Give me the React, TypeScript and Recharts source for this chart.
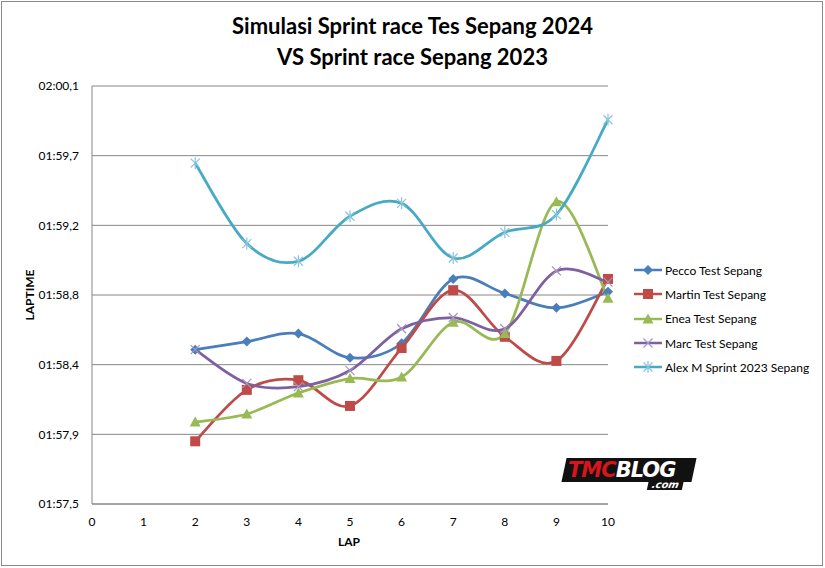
import React from "react";
import { LineChart, Line, XAxis, YAxis, CartesianGrid } from "recharts";

const LAPS = [0, 1, 2, 3, 4, 5, 6, 7, 8, 9, 10];
const PECCO = [null, null, 118.46, 118.51, 118.56, 118.41, 118.5, 118.9, 118.81, 118.72, 118.82];
const MARTIN = [null, null, 117.89, 118.21, 118.27, 118.11, 118.47, 118.83, 118.54, 118.39, 118.9];
const ENEA = [null, null, 118.01, 118.06, 118.19, 118.28, 118.29, 118.63, 118.56, 119.38, 118.78];
const MARC = [null, null, 118.46, 118.25, 118.23, 118.33, 118.59, 118.66, 118.59, 118.95, 118.88];
const ALEX = [null, null, 119.62, 119.12, 119.01, 119.29, 119.37, 119.03, 119.19, 119.3, 119.89];
const Y_TICKS = [117.5, 117.9333, 118.3667, 118.8, 119.2333, 119.6667, 120.1];

const data = LAPS.map((lap, i) => ({
  lap,
  pecco: PECCO[i],
  martin: MARTIN[i],
  enea: ENEA[i],
  marc: MARC[i],
  alex: ALEX[i],
}));

const FONT = "Lato, 'Open Sans', sans-serif";

// Excel-style smoothed line (uniform Catmull-Rom as cubic beziers)
const excelCurve = (context: any) => {
  let pts: number[][] = [];
  return {
    areaStart() {},
    areaEnd() {},
    lineStart() {
      pts = [];
    },
    point(x: number, y: number) {
      pts.push([+x, +y]);
    },
    lineEnd() {
      const n = pts.length;
      if (!n) return;
      context.moveTo(pts[0][0], pts[0][1]);
      for (let i = 0; i < n - 1; i++) {
        const p0 = pts[i - 1] || pts[i];
        const p1 = pts[i];
        const p2 = pts[i + 1];
        const p3 = pts[i + 2] || p2;
        context.bezierCurveTo(
          p1[0] + (p2[0] - p0[0]) / 6,
          p1[1] + (p2[1] - p0[1]) / 6,
          p2[0] - (p3[0] - p1[0]) / 6,
          p2[1] - (p3[1] - p1[1]) / 6,
          p2[0],
          p2[1]
        );
      }
    },
  };
};

const fmtTime = (v: number) => {
  const m = Math.floor(v / 60 + 1e-9);
  const s = v - m * 60;
  const sTxt = s.toFixed(1).replace(".", ",");
  return `${String(m).padStart(2, "0")}:${s < 9.95 ? "0" : ""}${sTxt}`;
};

type Marker = "diamond" | "square" | "triangle" | "x" | "star";

function drawMarker(kind: Marker, cx: number, cy: number, color: string, key?: any) {
  if (cx == null || cy == null || isNaN(cx) || isNaN(cy)) return <g key={key} />;
  switch (kind) {
    case "diamond":
      return (
        <path key={key} d={`M${cx},${cy - 5}L${cx + 5},${cy}L${cx},${cy + 5}L${cx - 5},${cy}Z`} fill={color} />
      );
    case "square":
      return <rect key={key} x={cx - 5} y={cy - 5} width={10} height={10} fill={color} />;
    case "triangle":
      return (
        <path key={key} d={`M${cx},${cy - 5.5}L${cx + 5.5},${cy + 4.5}L${cx - 5.5},${cy + 4.5}Z`} fill={color} />
      );
    case "x":
      return (
        <path
          key={key}
          d={`M${cx - 4.5},${cy - 4.5}L${cx + 4.5},${cy + 4.5}M${cx - 4.5},${cy + 4.5}L${cx + 4.5},${cy - 4.5}`}
          stroke={color}
          strokeWidth={1.2}
          fill="none"
        />
      );
    default:
      return (
        <path
          key={key}
          d={`M${cx - 4.5},${cy - 4.5}L${cx + 4.5},${cy + 4.5}M${cx - 4.5},${cy + 4.5}L${cx + 4.5},${cy - 4.5}M${cx},${cy - 6}L${cx},${cy + 6}`}
          stroke={color}
          strokeWidth={1.2}
          fill="none"
        />
      );
  }
}

const SERIES: { key: string; name: string; color: string; markerColor: string; marker: Marker }[] = [
  { key: "pecco", name: "Pecco Test Sepang", color: "#4A7EBB", markerColor: "#4A7EBB", marker: "diamond" },
  { key: "martin", name: "Martin Test Sepang", color: "#BE4B48", markerColor: "#BE4B48", marker: "square" },
  { key: "enea", name: "Enea Test Sepang", color: "#98B954", markerColor: "#98B954", marker: "triangle" },
  { key: "marc", name: "Marc Test Sepang", color: "#7D60A0", markerColor: "#A595C0", marker: "x" },
  { key: "alex", name: "Alex M Sprint 2023 Sepang", color: "#46AAC5", markerColor: "#8AC4DA", marker: "star" },
];

const ChartLegend = () => (
  <div style={{ position: "absolute", left: 633, top: 258, fontFamily: FONT, fontSize: 12, color: "#000" }}>
    {SERIES.map((s) => (
      <div key={s.key} style={{ display: "flex", alignItems: "center", height: 24.3 }}>
        <svg width={30} height={14} style={{ marginRight: 2 }}>
          <line x1={1} y1={7} x2={29} y2={7} stroke={s.color} strokeWidth={2.5} />
          {drawMarker(s.marker, 15, 7, s.markerColor)}
        </svg>
        <span>{s.name}</span>
      </div>
    ))}
  </div>
);

const Logo = () => (
  <div style={{ position: "absolute", left: 562, top: 458, width: 134, height: 34 }}>
    <div
      style={{
        position: "absolute",
        left: 2,
        top: 0,
        width: 130,
        height: 24,
        background: "#111",
        transform: "skewX(-12deg)",
      }}
    />
    <div
      style={{
        position: "absolute",
        left: 6,
        top: 0,
        fontFamily: "'DejaVu Sans', sans-serif",
        fontWeight: 900,
        fontStyle: "italic",
        fontSize: 21,
        lineHeight: "24px",
        letterSpacing: -1,
      }}
    >
      <span style={{ color: "#D8141C" }}>TMC</span>
      <span style={{ color: "#fff" }}>BLOG</span>
    </div>
    <div
      style={{
        position: "absolute",
        left: 86,
        top: 21,
        background: "#111",
        color: "#fff",
        fontFamily: "'DejaVu Sans', sans-serif",
        fontWeight: 700,
        fontStyle: "italic",
        fontSize: 10,
        lineHeight: "11px",
        padding: "0 4px",
        transform: "skewX(-12deg)",
      }}
    >
      .com
    </div>
  </div>
);

export default function App() {
  return (
    <div
      style={{
        position: "absolute",
        left: 0,
        top: 0,
        width: 825,
        height: 568,
        background: "#fff",
        fontFamily: FONT,
      }}
    >
      <div
        style={{
          position: "absolute",
          left: 1,
          top: 1,
          width: 822,
          height: 565,
          border: "1px solid #8a8a8a",
          boxSizing: "border-box",
        }}
      />
      <div
        style={{
          position: "absolute",
          left: 0,
          top: 10,
          width: 825,
          textAlign: "center",
          fontWeight: 700,
          fontSize: 22,
          lineHeight: "31px",
          color: "#000",
        }}
      >
        <div>Simulasi Sprint race Tes Sepang 2024</div>
        <div>VS Sprint race Sepang 2023</div>
      </div>
      <div
        style={{
          position: "absolute",
          left: 29,
          top: 295,
          transform: "translate(-50%, -50%) rotate(-90deg)",
          fontWeight: 700,
          fontSize: 12,
          color: "#000",
          whiteSpace: "nowrap",
        }}
      >
        LAPTIME
      </div>
      <div
        style={{
          position: "absolute",
          left: 349,
          top: 541,
          transform: "translate(-50%, -50%)",
          fontWeight: 700,
          fontSize: 12,
          color: "#000",
        }}
      >
        LAP
      </div>
      <LineChart
        width={825}
        height={568}
        data={data}
        margin={{ top: 86, right: 217, bottom: 34, left: 12 }}
        style={{ position: "absolute", left: 0, top: 0 }}
      >
        <CartesianGrid vertical={false} stroke="#868686" strokeWidth={1} />
        <XAxis
          dataKey="lap"
          type="number"
          domain={[0, 10]}
          ticks={LAPS}
          axisLine={{ stroke: "#868686" }}
          tickLine={false}
          tickMargin={7}
          height={30}
          tick={{ fontSize: 12, fill: "#000", fontFamily: FONT }}
        />
        <YAxis
          type="number"
          domain={[117.5, 120.1]}
          ticks={Y_TICKS}
          tickFormatter={fmtTime}
          axisLine={{ stroke: "#868686" }}
          tickLine={false}
          tickMargin={7}
          width={80}
          allowDataOverflow
          tick={{ fontSize: 12, fill: "#000", fontFamily: FONT }}
        />
        {SERIES.map((s) => (
          <Line
            key={s.key}
            dataKey={s.key}
            name={s.name}
            type={excelCurve as any}
            stroke={s.color}
            strokeWidth={2.75}
            isAnimationActive={false}
            activeDot={false}
            dot={(p: any) => drawMarker(s.marker, p.cx, p.cy, s.markerColor, `${s.key}-${p.index}`)}
          />
        ))}
      </LineChart>
      <ChartLegend />
      <Logo />
    </div>
  );
}
